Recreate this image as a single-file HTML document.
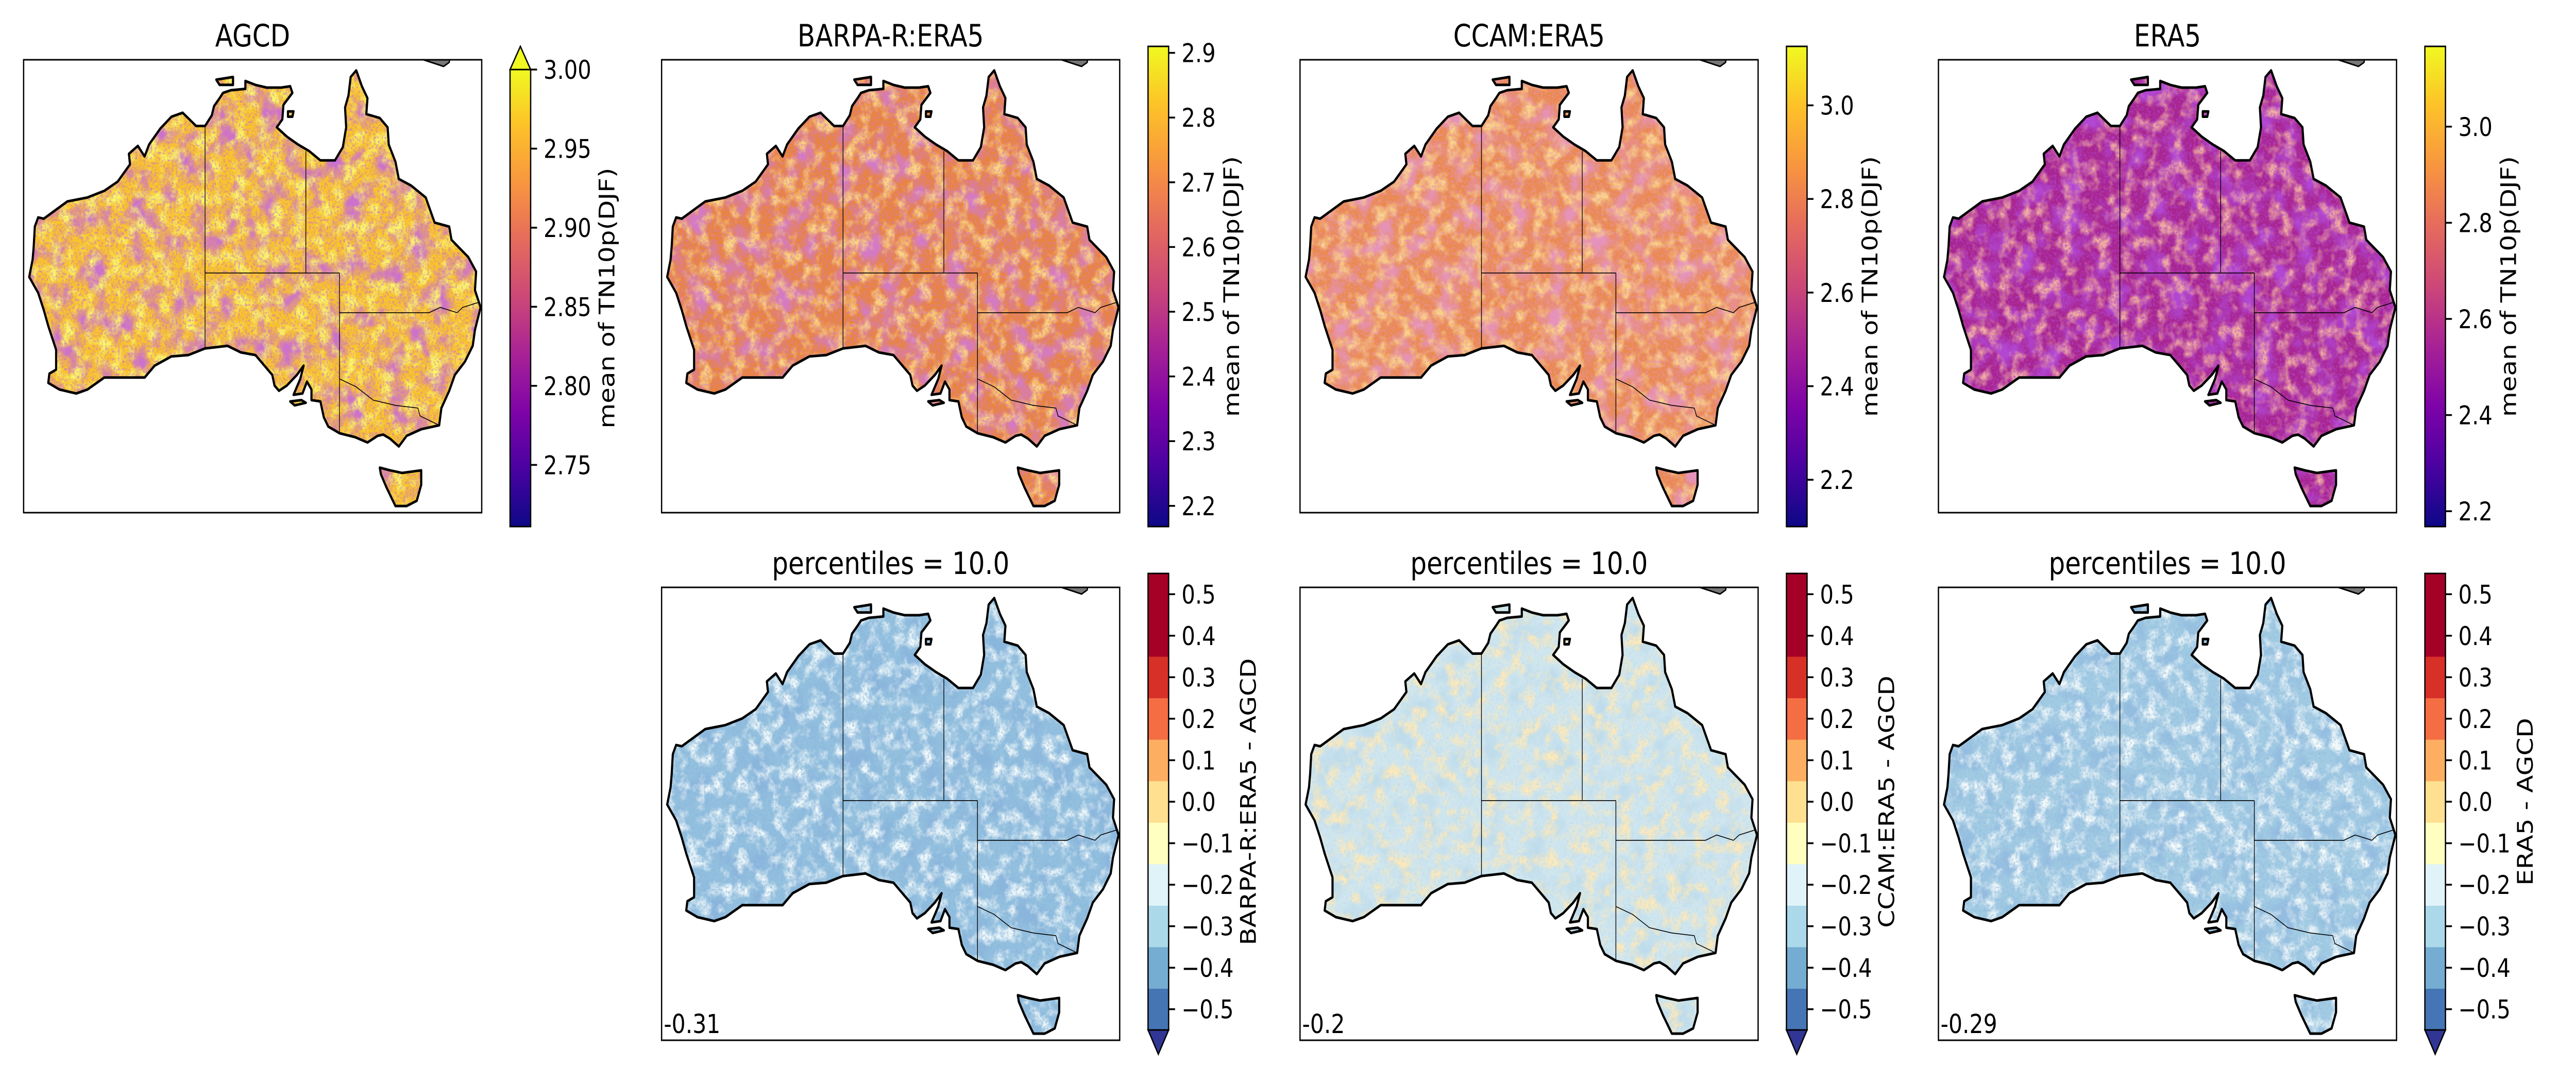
<!DOCTYPE html>
<html><head><meta charset="utf-8"><style>
html,body{margin:0;padding:0;background:#fff;overflow:hidden;width:100vw;height:100vh;}
svg{display:block;width:100vw;height:100vh;font-family:"DejaVu Sans","Liberation Sans",sans-serif;}
</style></head><body>
<svg id="fig" xmlns="http://www.w3.org/2000/svg" viewBox="0 0 6000 2100" preserveAspectRatio="none">
<defs>
<linearGradient id="plasma" x1="0" y1="1" x2="0" y2="0">
<stop offset="0" stop-color="#0d0887"/><stop offset="0.13" stop-color="#4c02a1"/>
<stop offset="0.25" stop-color="#7e03a8"/><stop offset="0.38" stop-color="#a92395"/>
<stop offset="0.5" stop-color="#cc4778"/><stop offset="0.63" stop-color="#e66c5c"/>
<stop offset="0.75" stop-color="#f89540"/><stop offset="0.88" stop-color="#fdc328"/>
<stop offset="1" stop-color="#f0f921"/></linearGradient>
</defs>
</svg>
<script>
// ---- colorbar data ----
const panelTitles = ["AGCD","BARPA-R:ERA5","CCAM:ERA5","ERA5"];
const cbRangesTop = [[2.711,3.0],[2.168,2.91],[2.10,3.126],[2.168,3.167]];
const cbTicksTop = [[2.75,2.80,2.85,2.90,2.95,3.00],[2.2,2.3,2.4,2.5,2.6,2.7,2.8,2.9],[2.2,2.4,2.6,2.8,3.0],[2.2,2.4,2.6,2.8,3.0]];
const cbTickDecimals = [2,1,1,1];
const diffLevels = [-0.55,-0.45,-0.35,-0.25,-0.15,-0.05,0.05,0.15,0.25,0.35,0.55];
const diffColors = ["#4575b4","#74add1","#abd9e9","#e0f3f8","#ffffbf","#fee090","#fdae61","#f46d43","#d73027","#a50026"];
const diffTicks = [-0.5,-0.4,-0.3,-0.2,-0.1,0.0,0.1,0.2,0.3,0.4,0.5];
const diffLabels = ["BARPA-R:ERA5 - AGCD","CCAM:ERA5 - AGCD","ERA5 - AGCD"];
const diffMeans = ["-0.31","-0.2","-0.29"];
// map fill styles: base, dark overlay, light overlay
const topFill = [["#f8c42c","#9a2a9a","#f6ee22"],["#e8843f","#a8328e","#f7ac36"],["#ea8a50","#c84a7e","#f6a83e"],["#a8258f","#7010a6","#e06a5a"]];
const botFill = [["#93c0de","#4176b6","#e0f1f5"],["#d0e6ee","#84b6d6","#fdcf7a"],["#a2cbe3","#4a80bd","#e6f3f3"]];

// ---- geography (lon, lat) ----
const mainland=[[142.5,-10.7],[143.0,-11.9],[143.5,-12.8],[143.4,-14.0],[144.6,-14.3],[145.3,-15.0],[145.4,-16.3],[146.0,-17.6],[146.3,-18.9],[147.4,-19.4],[148.7,-20.3],[149.5,-22.2],[150.8,-22.5],[151.0,-23.5],[152.5,-24.8],[153.2,-25.9],[153.1,-27.3],[153.6,-28.6],[153.1,-30.3],[152.9,-31.5],[152.2,-32.7],[151.3,-33.7],[150.8,-34.9],[150.1,-36.2],[149.9,-37.5],[148.3,-37.8],[147.0,-38.3],[146.3,-39.1],[145.5,-38.5],[144.9,-38.2],[144.4,-38.3],[143.5,-38.8],[142.4,-38.4],[141.0,-38.1],[140.0,-37.6],[139.6,-36.9],[139.3,-35.7],[138.5,-35.6],[138.5,-34.8],[138.1,-34.2],[137.7,-35.1],[136.9,-35.2],[137.5,-34.0],[137.8,-33.0],[137.2,-33.7],[136.3,-34.5],[135.6,-34.9],[135.2,-34.5],[135.0,-33.7],[134.2,-32.9],[133.5,-32.2],[132.2,-32.0],[131.0,-31.5],[129.0,-31.7],[127.5,-32.2],[126.0,-32.3],[124.5,-33.0],[123.6,-33.9],[122.0,-33.9],[120.0,-33.9],[118.5,-34.8],[117.5,-35.1],[116.0,-34.8],[115.0,-34.3],[115.1,-33.6],[115.7,-33.3],[115.7,-31.8],[115.0,-30.0],[114.6,-28.8],[114.1,-27.5],[113.3,-26.3],[113.6,-25.0],[113.7,-24.0],[113.8,-22.5],[114.1,-21.8],[114.6,-21.9],[116.7,-20.6],[118.5,-20.3],[120.0,-19.8],[121.2,-19.1],[122.3,-17.8],[122.2,-17.0],[123.0,-16.4],[123.6,-17.2],[124.0,-16.3],[125.0,-15.1],[126.0,-14.2],[127.0,-13.9],[128.2,-14.9],[129.0,-14.9],[129.6,-14.1],[129.8,-13.4],[130.3,-12.8],[130.6,-12.4],[131.3,-12.2],[132.6,-12.1],[132.6,-11.5],[133.5,-11.8],[134.5,-12.0],[135.8,-12.0],[136.6,-11.9],[136.8,-12.4],[136.0,-13.3],[135.9,-14.4],[135.4,-15.0],[136.3,-15.7],[137.3,-16.3],[138.3,-16.8],[139.3,-17.5],[140.6,-17.5],[141.3,-16.5],[141.6,-15.0],[141.5,-13.5],[141.8,-12.6],[142.0,-11.2]];
const tasmania=[[144.6,-40.7],[145.5,-40.9],[146.6,-41.1],[148.3,-40.9],[148.3,-42.0],[147.9,-43.2],[147.0,-43.6],[146.0,-43.6],[145.2,-42.2],[144.7,-41.2]];
const kangaroo=[[136.6,-35.7],[137.6,-35.6],[138.0,-35.8],[137.0,-36.0]];
const melville=[[130.0,-11.4],[131.5,-11.2],[131.5,-11.8],[130.3,-11.8]];
const groote=[[136.4,-13.8],[136.9,-13.8],[136.8,-14.2],[136.4,-14.2]];
const newGuinea=[[147.0,-9.6],[148.5,-9.9],[150.3,-10.4],[150.8,-10.1],[150.9,-9.5]];
const borders=[[[129,-14.9],[129,-31.7]],[[129,-26],[141,-26]],[[138,-16.8],[138,-26]],[[141,-26],[141,-38.1]],[[141,-29],[149,-29],[150,-28.6],[151.5,-29],[152,-28.6],[153.5,-28.2]],[[141,-34],[142.5,-34.6],[144,-35.6],[146,-36],[148,-36.2],[148.2,-36.8],[149.9,-37.5]]];

const AXW=1067, AXH=879;
const LON0=112.8, LON1=153.7, LAT0=-9.9, LAT1=-44.1;
const colX=[55,1541,3028,4515], rowY=[116,1140];
const NS="http://www.w3.org/2000/svg";
const svg=document.getElementById('fig');
const defs=svg.querySelector('defs');
function mk(tag,attrs,parent){const e=document.createElementNS(NS,tag);for(const k in attrs)e.setAttribute(k,attrs[k]);(parent||svg).appendChild(e);return e;}
function proj(ax,ay,p){return [ax+(p[0]-LON0)/(LON1-LON0)*AXW, ay+(LAT0-p[1])/(LAT0-LAT1)*AXH];}
function pathD(ax,ay,pts,close){return pts.map((p,i)=>{const q=proj(ax,ay,p);return (i?'L':'M')+q[0].toFixed(1)+' '+q[1].toFixed(1);}).join('')+(close?'Z':'');}

let fid=0;
function noiseFilter(color,freq,seed,a,c){
  const id='nf'+(fid++);
  const f=mk('filter',{id:id,x:'0',y:'0',width:'1',height:'1'},defs);
  mk('feTurbulence',{type:'fractalNoise',baseFrequency:freq,numOctaves:'3',seed:seed,result:'t'},f);
  const col=color.match(/\w\w/g).map(h=>parseInt(h,16)/255);
  mk('feColorMatrix',{in:'t',type:'matrix',values:`0 0 0 0 ${col[0]} 0 0 0 0 ${col[1]} 0 0 0 0 ${col[2]} ${a} 0 0 0 ${-c}`,result:'c'},f);
  mk('feComposite',{in:'c',in2:'SourceGraphic',operator:'in'},f);
  return id;
}

function drawMap(ax,ay,fill,name,seed){
  const g=mk('g',{});
  
  
  mk('rect',{x:ax,y:ay,width:AXW,height:AXH,fill:'#fff'},g);
  const land=[mainland,tasmania,kangaroo,melville,groote];
  const d=land.map(l=>pathD(ax,ay,l,true)).join('');
  const f1=noiseFilter(fill[1].slice(1),'0.02',seed,'3.0','1.3');
  const f2=noiseFilter(fill[2].slice(1),'0.035',seed+7,'3.0','1.35');
  const f3=noiseFilter(fill[1].slice(1),'0.2',seed+3,'2.2','1.05');
  mk('path',{d:d,fill:fill[0]},g);
  mk('path',{d:d,fill:'#000',filter:`url(#${f1})`},g);
  mk('path',{d:d,fill:'#000',filter:`url(#${f2})`},g);
  mk('path',{d:d,fill:'#000',filter:`url(#${f3})`},g);
  borders.forEach(b=>mk('path',{d:pathD(ax,ay,b,false),fill:'none',stroke:'#000','stroke-width':'1.6'},g));
  const coast=mk('path',{d:d,fill:'none',stroke:'#000','stroke-width':'5','stroke-linejoin':'round'},g);
  
  
  const ng=mk('path',{d:pathD(ax,ay,newGuinea,true),fill:'#777',stroke:'#000','stroke-width':'3'},g);
  
  
  const cid='cl'+(fid++);
  const cp=mk('clipPath',{id:cid},defs);
  mk('rect',{x:ax,y:ay,width:AXW,height:AXH},cp);
  g.setAttribute('clip-path',`url(#${cid})`);
  const fr=mk('rect',{x:ax,y:ay,width:AXW,height:AXH,fill:'none',stroke:'#000','stroke-width':'3'});
  
  
}

function text(x,y,s,size,anchor,name,rot){
  const t=mk('text',{x:x,y:y,'font-size':size,'text-anchor':anchor||'start',fill:'#000'});
  if(rot)t.setAttribute('transform',`rotate(-90 ${x} ${y})`);
  t.textContent=s;
  
  
  return t;
}
function fmt(v,d){const s=Math.abs(v).toFixed(d);return (v< -1e-9?'\u2212':'')+s;}

// ---- top row ----
for(let i=0;i<4;i++){
  const ax=colX[i], ay=rowY[0];
  text(ax+AXW/2,ay-26,panelTitles[i],60,'middle','panel-title-'+i);
  drawMap(ax,ay,topFill[i],'map-'+panelTitles[i].toLowerCase().replace(/[^a-z0-9]+/g,'-'),10+i*5);
  const cx=ax+1133, cw=48;
  const top = i===0?135:90, bot=1022;
  const [vmin,vmax]=cbRangesTop[i];
  const yv=v=>bot-(v-vmin)/(vmax-vmin)*(bot-top);
  const cb=mk('rect',{x:cx,y:top,width:cw,height:bot-top,fill:'url(#plasma)',stroke:'#000','stroke-width':'3'});
  
  
  if(i===0){
    const tri=mk('path',{d:`M${cx} ${top}L${cx+cw/2} 90L${cx+cw} ${top}Z`,fill:'#f0f921',stroke:'#000','stroke-width':'3'});
    
    
  }
  cbTicksTop[i].forEach(v=>{
    const y=yv(v);
    const tk=mk('line',{x1:cx+cw,x2:cx+cw+15,y1:y,y2:y,stroke:'#000','stroke-width':'3.5'});
    
    
    text(cx+cw+30,y+18,v.toFixed(cbTickDecimals[i]),50,'start','colorbar-tick-label');
  });
  const lx = i===0? ax+1133+225+18 : ax+1133+194+18;
  text(lx,(top+bot)/2,'mean of TN10p(DJF)',50,'middle','colorbar-title-'+i,true);
}

// ---- bottom row ----
for(let j=0;j<3;j++){
  const ax=colX[j+1], ay=rowY[1];
  text(ax+AXW/2,ay-26,'percentiles = 10.0',60,'middle','diff-title-'+j);
  drawMap(ax,ay,botFill[j],'diff-map-'+j,40+j*5);
  text(ax+5,ay+AXH-14,diffMeans[j],51,'start','mean-annotation-'+j);
  const cx=ax+1133, cw=48, top=1113, bot=1999;
  const vmin=diffLevels[0], vmax=diffLevels[diffLevels.length-1];
  const yv=v=>bot-(v-vmin)/(vmax-vmin)*(bot-top);
  const g=mk('g',{});
  
  
  for(let k=0;k<diffColors.length;k++){
    const y1=yv(diffLevels[k+1]), y0=yv(diffLevels[k]);
    const b=mk('rect',{x:cx,y:y1,width:cw,height:y0-y1+0.5,fill:diffColors[k]},g);
    
    
  }
  const tri=mk('path',{d:`M${cx} ${bot}L${cx+cw/2} 2046L${cx+cw} ${bot}Z`,fill:'#313695',stroke:'#000','stroke-width':'3'},g);
  
  
  mk('rect',{x:cx,y:top,width:cw,height:bot-top,fill:'none',stroke:'#000','stroke-width':'3'},g);
  diffTicks.forEach(v=>{
    const y=yv(v);
    const tk=mk('line',{x1:cx+cw,x2:cx+cw+15,y1:y,y2:y,stroke:'#000','stroke-width':'3.5'});
    
    
    text(cx+cw+30,y+18,fmt(v,1),50,'start','colorbar-tick-label');
  });
  text(cx+233+18,(top+bot)/2,diffLabels[j],50,'middle','diff-colorbar-title-'+j,true);
}
</script>
</body></html>
